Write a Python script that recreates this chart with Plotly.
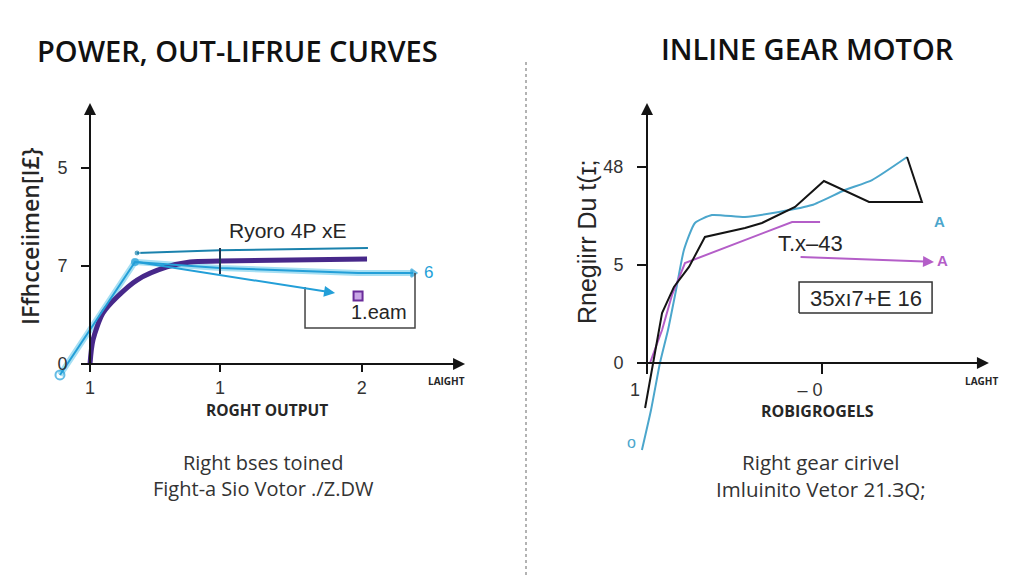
import plotly.graph_objects as go

W, H = 1024, 576

# ---------------- data (left panel) ----------------
left_title = "POWER, OUT-LIFRUE CURVES"
left_ylabel = "IFfhcceiimen[I£}"
left_xlabel = "ROGHT OUTPUT"
left_xend = "LAIGHT"
left_yticks = [0, 1, 2]
left_yticktext = ["0", "7", "5"]
left_xticks = [0, 1, 2.09]
left_xticktext = ["1", "1", "2"]

purple_x = [0.0, 0.023, 0.10, 0.208, 0.362, 0.592, 0.769, 1.0, 2.131]
purple_y = [0.0, 0.245, 0.52, 0.684, 0.857, 0.99, 1.041, 1.051, 1.071]

cyan_main_x = [-0.231, 0.346, 1.0, 2.062, 2.485]
cyan_main_y = [-0.112, 1.041, 0.98, 0.929, 0.929]

cyan_top_x = [0.362, 1.0, 2.138]
cyan_top_y = [1.133, 1.16, 1.184]

cyan_arrow_x = [0.362, 1.885]
cyan_arrow_y = [1.041, 0.724]

left_marker_x = [1.0, 1.0]
left_marker_y = [1.184, 0.918]

left_box_x = [1.654, 1.654, 2.5, 2.5]
left_box_y = [0.786, 0.367, 0.367, 0.929]

left_note = "Ryoro 4P xE"
left_box_text = "1.eam"
left_end_label = "6"
left_foot = ["Right bses toined", "Fight-a Sio Votor ./Z.DW"]

# ---------------- data (right panel) ----------------
right_title = "INLINE GEAR MOTOR"
right_ylabel = "Rnegiirr Du t(ɪ;"
right_xlabel = "ROBIGROGELS"
right_xend = "LAGHT"
right_yticks = [0, 1, 2]
right_yticktext = ["0", "5", "48"]
right_xticks = [0, 1]
right_xticktext = ["1", "– 0"]

rc_x = [-0.029, 0.023, 0.074, 0.12, 0.166, 0.211, 0.274, 0.371, 0.56, 0.754, 0.943, 1.131, 1.286, 1.486]
rc_y = [-0.888, -0.48, 0.0, 0.337, 0.745, 1.153, 1.429, 1.51, 1.49, 1.541, 1.612, 1.765, 1.867, 2.102]

rk_x = [-0.011, 0.034, 0.086, 0.154, 0.24, 0.331, 0.56, 0.657, 0.846, 1.011, 1.269, 1.571, 1.486]
rk_y = [-0.459, 0.0, 0.51, 0.776, 0.98, 1.286, 1.378, 1.429, 1.592, 1.857, 1.643, 1.643, 2.102]

rp_x = [0.017, 0.086, 0.143, 0.217, 0.829, 0.989]
rp_y = [0.0, 0.337, 0.694, 1.02, 1.439, 1.439]

rp_arrow_x = [0.869, 1.64]
rp_arrow_y = [1.082, 1.031]

right_box_x = [0.869, 1.629]
right_box_y = [0.51, 0.827]

right_note = "T.x–43"
right_box_text = "35xı7+E 16"
right_foot = ["Right gear cirivel", "Imluinito Vetor 21.ЗQ;"]

# ---------------- colours ----------------
C_PURPLE = "#47288a"
C_CYAN = "#239fd8"
C_CYAN_D = "#1b82ad"
C_RCYAN = "#4ba6cc"
C_RPURP = "#b45ec8"
C_BLACK = "#141414"
TXT = "#262626"


def px(x):
    return x / W


def py(y):
    return 1 - y / H


fig = go.Figure()

# ---- left traces ----
fig.add_trace(go.Scatter(x=cyan_main_x, y=cyan_main_y, mode="lines", xaxis="x", yaxis="y",
                         line=dict(color="#a6dff3", width=6), hoverinfo="skip"))
fig.add_trace(go.Scatter(x=purple_x, y=purple_y, mode="lines", xaxis="x", yaxis="y",
                         line=dict(color=C_PURPLE, width=5, shape="spline", smoothing=0.8)))
fig.add_trace(go.Scatter(x=cyan_main_x, y=cyan_main_y, mode="lines+markers", xaxis="x", yaxis="y",
                         line=dict(color=C_CYAN, width=2),
                         marker=dict(size=[9, 6, 0, 0, 7], color=C_CYAN,
                                     symbol=["circle-open", "circle", "circle", "circle", "triangle-right"],
                                     line=dict(color=C_CYAN, width=2))))
fig.add_trace(go.Scatter(x=cyan_top_x, y=cyan_top_y, mode="lines+markers", xaxis="x", yaxis="y",
                         line=dict(color=C_CYAN_D, width=2),
                         marker=dict(size=[6, 0, 0], color=C_CYAN_D)))
fig.add_trace(go.Scatter(x=left_marker_x, y=left_marker_y, mode="lines", xaxis="x", yaxis="y",
                         line=dict(color="#1d3550", width=2)))
fig.add_trace(go.Scatter(x=left_box_x, y=left_box_y, mode="lines", xaxis="x", yaxis="y",
                         line=dict(color="#444", width=1.5)))
fig.add_trace(go.Scatter(x=[2.062], y=[0.694], mode="markers", xaxis="x", yaxis="y",
                         marker=dict(symbol="square", size=9, color="#c9a6e6",
                                     line=dict(color="#6a2c9a", width=2))))

# ---- right traces ----
fig.add_trace(go.Scatter(x=rc_x, y=rc_y, mode="lines", xaxis="x2", yaxis="y2",
                         line=dict(color=C_RCYAN, width=2, shape="spline", smoothing=0.5)))
fig.add_trace(go.Scatter(x=rp_x, y=rp_y, mode="lines", xaxis="x2", yaxis="y2",
                         line=dict(color=C_RPURP, width=2)))
fig.add_trace(go.Scatter(x=rk_x, y=rk_y, mode="lines", xaxis="x2", yaxis="y2",
                         line=dict(color=C_BLACK, width=2)))
fig.add_trace(go.Scatter(x=[right_box_x[0], right_box_x[1], right_box_x[1], right_box_x[0], right_box_x[0]],
                         y=[right_box_y[0], right_box_y[0], right_box_y[1], right_box_y[1], right_box_y[0]],
                         mode="lines", xaxis="x2", yaxis="y2", line=dict(color="#333", width=1.5)))

ann = []


def arrow(xr, yr, x0, y0, x1, y1, color, width=2, size=1.2):
    ann.append(dict(x=x1, y=y1, ax=x0, ay=y0, xref=xr, yref=yr, axref=xr, ayref=yr,
                    text="", showarrow=True, arrowhead=2, arrowsize=size,
                    arrowwidth=width, arrowcolor=color))


def label(xr, yr, x, y, text, size, color=TXT, family="Liberation Sans", weight="normal", angle=0,
          xanchor="center"):
    ann.append(dict(x=x, y=y, xref=xr, yref=yr, text=text, showarrow=False, textangle=angle,
                    xanchor=xanchor, yanchor="middle",
                    font=dict(size=size, color=color, family=family, weight=weight)))


# axes arrows
arrow("x", "y", -0.04, 0, 2.885, 0, C_BLACK)
arrow("x", "y", 0, -0.03, 0, 2.663, C_BLACK)
arrow("x2", "y2", -0.057, 0, 1.954, 0, C_BLACK)
arrow("x2", "y2", 0, -0.102, 0, 2.653, C_BLACK)
# data arrows
arrow("x", "y", cyan_arrow_x[0], cyan_arrow_y[0], cyan_arrow_x[1], cyan_arrow_y[1], C_CYAN, 2, 1.1)
arrow("x2", "y2", rp_arrow_x[0], rp_arrow_y[0], rp_arrow_x[1], rp_arrow_y[1], C_RPURP, 2, 1.1)

# left labels
label("x", "y", 1.523, 1.36, left_note, 21)
label("x", "y", 2.223, 0.531, left_box_text, 20)
label("x", "y", 2.6, 0.929, left_end_label, 17, color=C_CYAN)
label("x", "y", 2.746, -0.173, left_xend, 10, weight="bold", family="Open Sans")
label("paper", "paper", px(267), py(410), left_xlabel, 15.5, weight="bold", family="Open Sans")
label("paper", "paper", px(30), py(236), left_ylabel, 23, weight=600, family="Open Sans", angle=-90)
label("paper", "paper", px(237), py(51), left_title, 29, color="#111", weight=600, family="Open Sans")
label("paper", "paper", px(263), py(475), "<br>".join(left_foot), 20, color="#333", family="Open Sans")

# right labels
label("x2", "y2", 0.937, 1.224, right_note, 22)
label("x2", "y2", 1.251, 0.663, right_box_text, 22)
label("x2", "y2", 1.674, 1.439, "A", 15, color=C_RCYAN, weight="bold")
label("x2", "y2", 1.686, 1.051, "A", 15, color=C_RPURP, weight="bold")
label("x2", "y2", -0.086, -0.816, "o", 16, color=C_RCYAN)
label("x2", "y2", 1.914, -0.184, right_xend, 10, weight="bold", family="Open Sans")
label("paper", "paper", px(817), py(411), right_xlabel, 16, weight="bold", family="Open Sans")
label("paper", "paper", px(587), py(242), right_ylabel, 25, angle=-90)
label("paper", "paper", px(807), py(49), right_title, 29, color="#111", weight=600, family="Open Sans")
label("paper", "paper", px(821), py(475), "<br>".join(right_foot), 20.5, color="#333", family="Open Sans")

tickfont = dict(size=18, color="#333", family="Liberation Sans")
common_axis = dict(showgrid=False, zeroline=False, showline=False, ticks="outside",
                   tickcolor=C_BLACK, tickwidth=2, tickfont=tickfont, fixedrange=True)

fig.update_layout(
    width=W, height=H, margin=dict(l=0, r=0, t=0, b=0),
    paper_bgcolor="white", plot_bgcolor="rgba(0,0,0,0)", showlegend=False,
    xaxis=dict(domain=[px(40), px(480)], range=[-50 / 130, 390 / 130], anchor="free",
               position=py(364), tickvals=left_xticks, ticktext=left_xticktext, ticklen=7,
               **common_axis),
    yaxis=dict(domain=[py(470), py(100)], range=[(364 - 470) / 98, (364 - 100) / 98], anchor="free",
               position=px(90), tickvals=left_yticks, ticktext=left_yticktext, ticklen=9,
               ticklabelstandoff=10, **common_axis),
    xaxis2=dict(domain=[px(600), px(1000)], range=[(600 - 647) / 175, (1000 - 647) / 175], anchor="free",
                position=py(363), tickvals=right_xticks, ticktext=right_xticktext, ticklen=10,
                ticklabelshift=-12, **common_axis),
    yaxis2=dict(domain=[py(470), py(100)], range=[(363 - 470) / 98, (363 - 100) / 98], anchor="free",
                position=px(647), tickvals=right_yticks, ticktext=right_yticktext, ticklen=10,
                ticklabelstandoff=10, **common_axis),
    annotations=ann,
    shapes=[dict(type="line", xref="paper", yref="paper", x0=px(526), x1=px(526), y0=py(62), y1=0,
                 line=dict(color="#9a9a9a", width=1.5, dash="dot"))],
)

fig.write_html("out.html", config={"displayModeBar": False},
               post_script="document.body.style.margin='0';")
